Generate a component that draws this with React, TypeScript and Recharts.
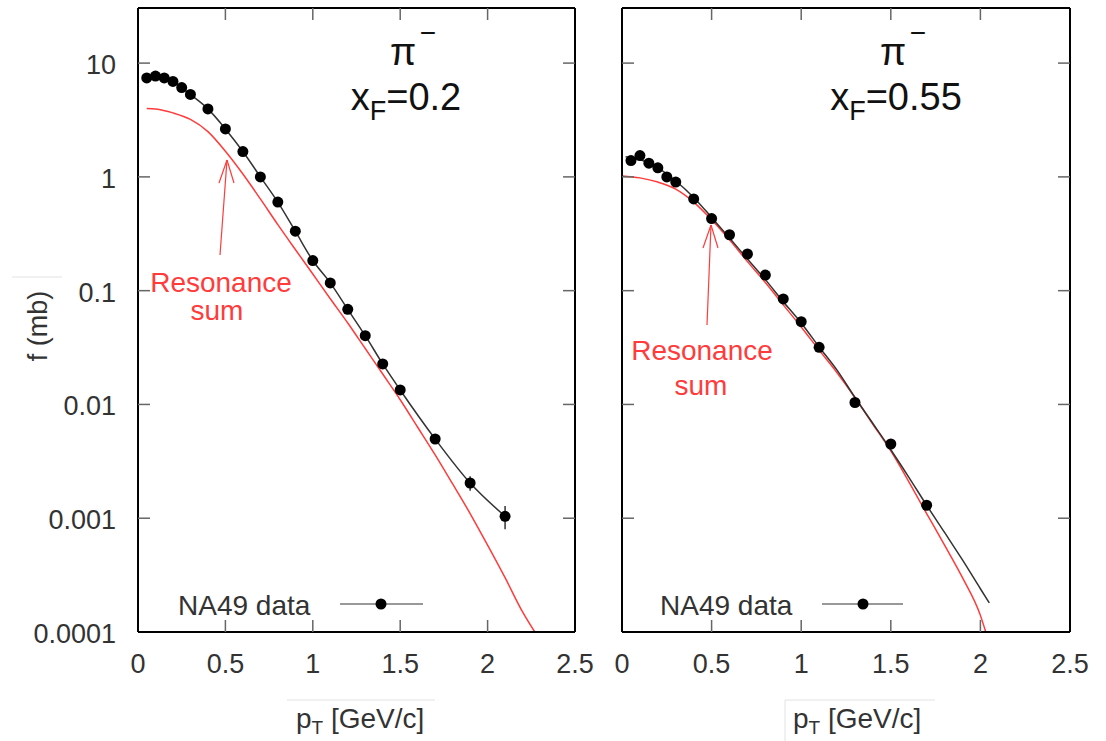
import React from 'react';
import { ComposedChart, Line, Scatter, XAxis, YAxis, ErrorBar, ReferenceLine } from 'recharts';

const X_TICKS = [0, 0.5, 1, 1.5, 2, 2.5];
const Y_TICKS = [0.0001, 0.001, 0.01, 0.1, 1, 10];
const Y_MAX = 30.5;

// x_F = 0.2 panel
const LEFT_PT = [0.05, 0.1, 0.15, 0.2, 0.25, 0.3, 0.4, 0.5, 0.6, 0.7, 0.8, 0.9, 1.0, 1.1, 1.2, 1.3, 1.4, 1.5, 1.7, 1.9, 2.1];
const LEFT_F = [7.4, 7.7, 7.4, 6.9, 6.1, 5.3, 3.96, 2.64, 1.67, 1.0, 0.6, 0.333, 0.184, 0.117, 0.0685, 0.0402, 0.0227, 0.0134, 0.00497, 0.00204, 0.00104];
const LEFT_ERR = [0, 0, 0, 0, 0, 0, 0, 0, 0, 0, 0, 0, 0, 0, 0, 0, 0, 0, 0, 0.0003, 0.00024];
const LEFT_RES_PT = [0.05, 0.1, 0.2, 0.3, 0.4, 0.5, 0.6, 0.7, 0.8, 0.9, 1.0, 1.1, 1.2, 1.3, 1.4, 1.5, 1.6, 1.7, 1.8, 1.9, 2.0, 2.1, 2.2, 2.27];
const LEFT_RES_F = [4.0, 3.95, 3.65, 3.2, 2.5, 1.68, 1.06, 0.64, 0.38, 0.23, 0.14, 0.085, 0.052, 0.031, 0.0185, 0.011, 0.0063, 0.0036, 0.002, 0.0011, 0.00058, 0.0003, 0.00015, 0.0001];

// x_F = 0.55 panel
const RIGHT_PT = [0.05, 0.1, 0.15, 0.2, 0.25, 0.3, 0.4, 0.5, 0.6, 0.7, 0.8, 0.9, 1.0, 1.1, 1.3, 1.5, 1.7];
const RIGHT_F = [1.39, 1.54, 1.32, 1.2, 1.0, 0.9, 0.64, 0.43, 0.31, 0.21, 0.137, 0.0845, 0.0534, 0.0318, 0.0104, 0.00449, 0.0013];
const RIGHT_FIT_PT = [0.02, 0.1, 0.2, 0.3, 0.4, 0.5, 0.6, 0.7, 0.8, 0.9, 1.0, 1.1, 1.2, 1.3, 1.4, 1.5, 1.6, 1.7, 1.8, 1.9, 2.0, 2.05];
const RIGHT_FIT_F = [1.5, 1.42, 1.2, 0.92, 0.66, 0.44, 0.29, 0.19, 0.125, 0.08, 0.052, 0.032, 0.02, 0.0115, 0.0068, 0.004, 0.0023, 0.0013, 0.00075, 0.00043, 0.00024, 0.00018];
const RIGHT_RES_PT = [0.0, 0.1, 0.2, 0.3, 0.4, 0.5, 0.6, 0.7, 0.8, 0.9, 1.0, 1.1, 1.2, 1.3, 1.4, 1.5, 1.6, 1.7, 1.8, 1.9, 2.0, 2.03];
const RIGHT_RES_F = [1.02, 0.98, 0.9, 0.78, 0.6, 0.42, 0.28, 0.18, 0.118, 0.075, 0.048, 0.03, 0.019, 0.0115, 0.0067, 0.0039, 0.0021, 0.0011, 0.00058, 0.0003, 0.00014, 0.0001];

const FONT = '"Liberation Sans", Arial, Helvetica, sans-serif';
const RED = '#ff3b3b';
const INK = '#333';
const FRAME = { stroke: '#000', strokeWidth: 2 };
const TICK_LEN = 12;
const PLOT_TOP = 8;
const PLOT_BOTTOM = 632;

const zip = (xs: number[], ys: number[], es?: number[]) =>
  xs.map((x, i) => ({ x, y: ys[i], err: es ? es[i] : 0 }));

const leftPts = zip(LEFT_PT, LEFT_F, LEFT_ERR);
const leftRes = zip(LEFT_RES_PT, LEFT_RES_F);
const rightPts = zip(RIGHT_PT, RIGHT_F);
const rightFit = zip(RIGHT_FIT_PT, RIGHT_FIT_F);
const rightRes = zip(RIGHT_RES_PT, RIGHT_RES_F);

// inward ticks on both bottom and top edge, plus the label
const makeXTick = () => (props: any) => {
  const { x, payload } = props;
  const v = payload.value;
  const edge = v === 0 || v === 2.5;
  return (
    <g>
      {!edge && (
        <>
          <line x1={x} x2={x} y1={PLOT_BOTTOM} y2={PLOT_BOTTOM - TICK_LEN} stroke="#666" strokeWidth={1.5} />
          <line x1={x} x2={x} y1={PLOT_TOP} y2={PLOT_TOP + TICK_LEN} stroke="#666" strokeWidth={1.5} />
        </>
      )}
      <text x={x} y={673} textAnchor="middle" fontSize={27} fontFamily={FONT} fill={INK}>{String(v)}</text>
    </g>
  );
};

// inward ticks on both left and right edge, label only when asked
const makeYTick = (left: number, right: number, showLabel: boolean) => (props: any) => {
  const { y, payload } = props;
  const v = payload.value;
  const edge = v === Y_TICKS[0];
  return (
    <g>
      {!edge && (
        <>
          <line x1={left} x2={left + TICK_LEN} y1={y} y2={y} stroke="#666" strokeWidth={1.5} />
          <line x1={right} x2={right - TICK_LEN} y1={y} y2={y} stroke="#666" strokeWidth={1.5} />
        </>
      )}
      {showLabel && (
        <text x={left - 22} y={y + 11} textAnchor="end" fontSize={27} fontFamily={FONT} fill={INK}>{String(v)}</text>
      )}
    </g>
  );
};

function Panel({ showY, width, margin, fit, res, pts }: any) {
  const yw = showY ? 100 : 32;
  const left = margin.left + yw;
  const right = width - margin.right;
  return (
    <ComposedChart width={width} height={741} margin={margin}>
      <XAxis
        dataKey="x"
        type="number"
        domain={[0, 2.5]}
        ticks={X_TICKS}
        interval={0}
        allowDataOverflow
        height={60}
        tickLine={false}
        tick={makeXTick()}
        axisLine={FRAME}
      />
      <YAxis
        dataKey="y"
        scale="log"
        domain={[0.0001, Y_MAX]}
        ticks={Y_TICKS}
        interval={0}
        allowDataOverflow
        width={yw}
        tickLine={false}
        tick={makeYTick(left, right, showY)}
        axisLine={FRAME}
      />
      <ReferenceLine x={2.5} stroke="#000" strokeWidth={2} />
      <ReferenceLine y={Y_MAX} stroke="#000" strokeWidth={2} />
      <Line data={res} dataKey="y" type="monotone" stroke={RED} strokeWidth={1.5} dot={false} isAnimationActive={false} />
      <Line data={fit} dataKey="y" type="monotone" stroke={INK} strokeWidth={1.5} dot={false} isAnimationActive={false} />
      <Scatter data={pts} dataKey="y" fill="#000" shape={(p: any) => <circle cx={p.cx} cy={p.cy} r={5.5} fill="#000" />} isAnimationActive={false}>
        <ErrorBar dataKey="err" direction="y" width={0} stroke={INK} strokeWidth={1.5} />
      </Scatter>
    </ComposedChart>
  );
}

function Title({ cx, label }: { cx: number; label: string }) {
  return (
    <g fontFamily={FONT} fill="#111">
      <text x={cx} y={65} fontSize={38} textAnchor="middle">π</text>
      <text x={cx + 25} y={42} fontSize={28} textAnchor="middle">−</text>
      <text x={cx + 3} y={110} fontSize={38} textAnchor="middle">
        x<tspan fontSize={27} dy={10}>F</tspan><tspan dy={-10}>{label}</tspan>
      </text>
    </g>
  );
}

function Arrow({ x0, y0, x1, y1 }: { x0: number; y0: number; x1: number; y1: number }) {
  return (
    <g stroke={RED} strokeWidth={1.2} fill="none">
      <line x1={x0} y1={y0} x2={x1} y2={y1} />
      <line x1={x1} y1={y1} x2={x1 - 8} y2={y1 + 23} />
      <line x1={x1} y1={y1} x2={x1 + 7} y2={y1 + 23} />
    </g>
  );
}

function LegendKey({ tx, lx0, lx1, dot }: { tx: number; lx0: number; lx1: number; dot: number }) {
  return (
    <g>
      <text x={tx} y={615} fontSize={28} fontFamily={FONT} fill={INK}>NA49 data</text>
      <line x1={lx0} y1={604} x2={lx1} y2={604} stroke="#999" strokeWidth={2} />
      <circle cx={dot} cy={604} r={5.5} fill="#000" />
    </g>
  );
}

export default function App() {
  return (
    <div style={{ position: 'absolute', left: 0, top: 0, width: 1106, height: 741, background: '#fff' }}>
      <div style={{ position: 'absolute', left: 0, top: 0 }}>
        <Panel showY width={600} margin={{ top: PLOT_TOP, right: 25, bottom: 49, left: 38 }} fit={leftPts} res={leftRes} pts={leftPts} />
      </div>
      <div style={{ position: 'absolute', left: 590, top: 0 }}>
        <Panel showY={false} width={516} margin={{ top: PLOT_TOP, right: 36, bottom: 49, left: 0 }} fit={rightFit} res={rightRes} pts={rightPts} />
      </div>
      <svg width={1106} height={741} style={{ position: 'absolute', left: 0, top: 0, pointerEvents: 'none' }}>
        <Title cx={403} label="=0.2" />
        <Title cx={893} label="=0.55" />

        <Arrow x0={220} y0={255} x1={227} y1={160} />
        <text x={221} y={292} fontSize={28} fontFamily={FONT} fill={RED} textAnchor="middle">Resonance</text>
        <text x={217} y={320} fontSize={28} fontFamily={FONT} fill={RED} textAnchor="middle">sum</text>

        <Arrow x0={707} y0={325} x1={711} y1={225} />
        <text x={702} y={360} fontSize={28} fontFamily={FONT} fill={RED} textAnchor="middle">Resonance</text>
        <text x={701} y={395} fontSize={28} fontFamily={FONT} fill={RED} textAnchor="middle">sum</text>

        <LegendKey tx={178} lx0={340} lx1={423} dot={381} />
        <LegendKey tx={660} lx0={822} lx1={903} dot={863} />

        <line x1={12} y1={277} x2={62} y2={277} stroke="#e2e2e2" strokeWidth={1} />
        <text transform="translate(47,326) rotate(-90)" fontSize={27} fontFamily={FONT} fill={INK} textAnchor="middle">f (mb)</text>

        <line x1={287} y1={700} x2={435} y2={700} stroke="#e2e2e2" strokeWidth={1} />
        <text x={296} y={728} fontSize={28} fontFamily={FONT} fill={INK}>
          p<tspan fontSize={19} dy={6}>T</tspan><tspan dy={-6}> [GeV/c]</tspan>
        </text>

        <polyline points="785,741 785,700 935,700" stroke="#e2e2e2" strokeWidth={1} fill="none" />
        <text x={793} y={728} fontSize={28} fontFamily={FONT} fill={INK}>
          p<tspan fontSize={19} dy={6}>T</tspan><tspan dy={-6}> [GeV/c]</tspan>
        </text>
      </svg>
    </div>
  );
}
